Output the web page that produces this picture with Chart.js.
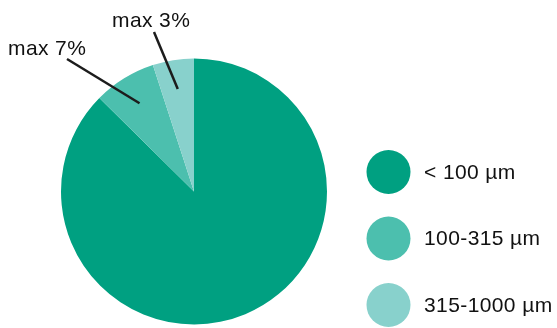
<!DOCTYPE html>
<html>
<head>
<meta charset="utf-8">
<script src="https://cdn.jsdelivr.net/npm/chart.js@4"></script>
<style>
  html, body { margin: 0; padding: 0; background: #fff; }
  #wrap { width: 557px; height: 328px; }
</style>
</head>
<body>
<div id="wrap"><canvas id="c" width="557" height="328"></canvas></div>
<script>
const categories = ["< 100 µm", "100-315 µm", "315-1000 µm"];
const shares = [87.4, 7.6, 5.0];
const colors = ["#00a081", "#4cbfae", "#88d1cc"];
const calloutText = ["", "max 7%", "max 3%"];

// where each callout label sits, and where its leader line starts
const callouts = {
  1: { tx: 8, ty: 55, lx: 67, ly: 59 },
  2: { tx: 112, ty: 27, lx: 154, ly: 32 },
};

const font = "Liberation Sans, Arial, sans-serif";

const extras = {
  id: "extras",
  afterDraw(chart) {
    const ctx = chart.ctx;
    const arcs = chart.getDatasetMeta(0).data;
    ctx.save();
    // leader lines + callout text
    ctx.strokeStyle = "#1c1c1c";
    ctx.lineWidth = 2.5;
    ctx.fillStyle = "#111";
    ctx.font = "21px " + font;
    ctx.letterSpacing = "0.4px";
    ctx.textBaseline = "alphabetic";
    for (const k in callouts) {
      const a = arcs[k];
      const p = a.getProps(["x", "y", "startAngle", "endAngle", "outerRadius"], true);
      const mid = (p.startAngle + p.endAngle) / 2;
      const r = p.outerRadius * 0.78;
      const c = callouts[k];
      ctx.beginPath();
      ctx.moveTo(c.lx, c.ly);
      ctx.lineTo(p.x + Math.cos(mid) * r, p.y + Math.sin(mid) * r);
      ctx.stroke();
      ctx.fillText(calloutText[k], c.tx, c.ty);
    }
    // legend
    ctx.textBaseline = "middle";
    categories.forEach((name, i) => {
      const cy = 172 + i * 66.5;
      ctx.beginPath();
      ctx.fillStyle = colors[i];
      ctx.arc(388.5, cy, 22, 0, Math.PI * 2);
      ctx.fill();
      ctx.fillStyle = "#111";
      ctx.fillText(name, 424, cy + 1);
    });
    ctx.restore();
  },
};

new Chart(document.getElementById("c"), {
  type: "pie",
  data: {
    labels: categories,
    datasets: [{
      data: shares,
      backgroundColor: colors,
      borderWidth: 0,
    }],
  },
  options: {
    responsive: false,
    animation: false,
    layout: { padding: { top: 58, bottom: 3, left: 61, right: 230 } },
    plugins: {
      legend: { display: false },
      tooltip: { enabled: false },
    },
  },
  plugins: [extras],
});
</script>
</body>
</html>
